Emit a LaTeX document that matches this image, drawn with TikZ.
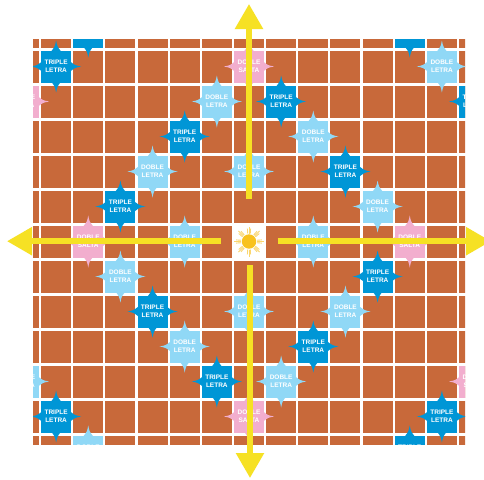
\documentclass[tikz,border=0pt]{standalone}
\usepackage{fontspec}
\setmainfont{Liberation Sans}
\usetikzlibrary{arrows.meta}
\definecolor{brownc}{RGB}{200,105,58}
\definecolor{tlblue}{RGB}{0,150,214}
\definecolor{dlblue}{RGB}{144,216,246}
\definecolor{dspink}{RGB}{242,174,206}
\definecolor{yel}{RGB}{246,225,36}
\definecolor{sunc}{RGB}{248,194,30}
\definecolor{rayc}{RGB}{250,214,110}
\newcommand\spikes[3]{%
  \begin{scope}[shift={({249+32.15*(#1)},{241.5+35*(#2)})}]
    \foreach \r/\d in {0/25,90/26,180/25,270/26}
      \fill[#3,rotate=\r] ({\d-11},-5) .. controls ({\d-6},-1.2) .. (\d,0) .. controls ({\d-6},1.2) .. ({\d-11},5) -- cycle;
  \end{scope}}
\newcommand\mktl[3]{\spikes{#2}{#3}{tlblue}\node[tlsq] (#1) at ({249+32.15*(#2)},{241.5+35*(#3)}) {TRIPLE\\LETRA};}
\newcommand\mkdl[3]{\spikes{#2}{#3}{dlblue}\node[dlsq] (#1) at ({249+32.15*(#2)},{241.5+35*(#3)}) {DOBLE\\LETRA};}
\newcommand\mkds[3]{\spikes{#2}{#3}{dspink}\node[dssq] (#1) at ({249+32.15*(#2)},{241.5+35*(#3)}) {DOBLE\\SALTA};}
\begin{document}
\begin{tikzpicture}[x=1pt,y=-1pt,
  sqbase/.style={minimum width=30pt,minimum height=32pt,inner sep=0pt,text=white,
    font=\fontsize{6.5}{7.7}\selectfont\bfseries,align=center},
  tlsq/.style={sqbase,fill=tlblue},
  dlsq/.style={sqbase,fill=dlblue},
  dssq/.style={sqbase,fill=dspink},
  yarrow/.style={draw=yel,line width=5.5pt,-{Triangle[width=27pt,length=25pt]}},
  ray/.style={draw=rayc,line width=0.9pt}]
\clip (0,0) rectangle (484,479);
\fill[white] (0,0) rectangle (484,479);
\begin{scope}
  \clip (33,39) rectangle (465,444);
  \foreach \i in {-7,...,7}
    \foreach \j in {-6,...,6}
      \fill[brownc] ({249+32.15*(\i)-15},{241.5+35*(\j)-16}) rectangle +(30,32);
  % triple letra
  \mktl{t1}{-6}{-5}\mktl{t2}{-5}{-6}\mktl{t3}{5}{-6}\mktl{t4}{7}{-4}\mktl{t5}{1}{-4}
  \mktl{t6}{-2}{-3}\mktl{t7}{3}{-2}\mktl{t8}{-4}{-1}\mktl{t9}{4}{1}\mktl{t10}{-3}{2}
  \mktl{t11}{2}{3}\mktl{t12}{-1}{4}\mktl{t13}{-6}{5}\mktl{t14}{6}{5}\mktl{t15}{5}{6}
  % doble letra
  \mkdl{d1}{6}{-5}\mkdl{d2}{-1}{-4}\mkdl{d3}{2}{-3}\mkdl{d4}{-3}{-2}\mkdl{d5}{0}{-2}
  \mkdl{d6}{4}{-1}\mkdl{d7}{-2}{0}\mkdl{d8}{2}{0}\mkdl{d9}{-4}{1}\mkdl{d10}{0}{2}
  \mkdl{d11}{3}{2}\mkdl{d12}{-2}{3}\mkdl{d13}{1}{4}\mkdl{d14}{-7}{4}\mkdl{d15}{-5}{6}
  % doble salta
  \mkds{s1}{0}{-5}\mkds{s2}{-7}{-4}\mkds{s3}{-5}{0}\mkds{s4}{5}{0}\mkds{s5}{0}{5}\mkds{s6}{7}{4}
  % centre
  \node[sqbase,fill=white] (ctr) at (249,241.5) {};
\end{scope}
% sun
\begin{scope}[shift={(249,241.5)}]
  \foreach \a in {0,45,...,315} {
    \draw[ray] (\a:8) -- (\a:15);
    \draw[ray] (\a+9:8) -- (\a+7:13);
    \draw[ray] (\a-9:8) -- (\a-7:13);
  }
  \fill[sunc] (0,0) circle (7.2);
\end{scope}
% arrows
\coordinate (uS) at (249,199);   \coordinate (uE) at (249,4);
\coordinate (lS) at (221,241.2); \coordinate (lE) at (7,241.2);
\coordinate (rS) at (277.5,241.2); \coordinate (rE) at (491,241.2);
\coordinate (dS) at (250,265);   \coordinate (dE) at (250,478);
\draw[yarrow] (uS) -- (uE);
\draw[yarrow] (lS) -- (lE);
\draw[yarrow] (rS) -- (rE);
\draw[yarrow] (dS) -- (dE);
\end{tikzpicture}
\end{document}
